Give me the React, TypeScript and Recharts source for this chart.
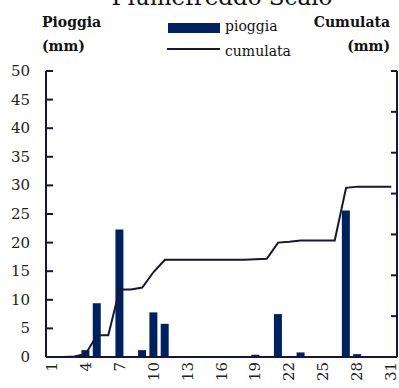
import React from 'react';
import { ComposedChart, Bar, Line, XAxis, YAxis } from 'recharts';

const days = [
  1, 2, 3, 4, 5, 6, 7, 8, 9, 10, 11, 12, 13, 14, 15, 16,
  17, 18, 19, 20, 21, 22, 23, 24, 25, 26, 27, 28, 29, 30, 31,
];
const pioggia = [
  0, 0, 0, 1.2, 9.4, 0, 22.3, 0, 1.2, 7.8, 5.8, 0, 0, 0, 0, 0,
  0, 0, 0.4, 0.1, 7.5, 0.1, 0.8, 0, 0, 0, 25.6, 0.5, 0, 0, 0,
];
const cumulata = [
  0, 0, 0.3, 1.5, 10.6, 10.6, 33.1, 33.1, 34.0, 41.6, 47.6, 47.6, 47.6, 47.6, 47.6, 47.6,
  47.6, 47.6, 47.9, 48.1, 56.0, 56.4, 57.0, 57.0, 57.0, 57.0, 82.8, 83.4, 83.4, 83.4, 83.4,
];
const leftTicks = [0, 5, 10, 15, 20, 25, 30, 35, 40, 45, 50];
const rightTicks = [0, 20, 40, 60, 80, 100, 120, 140];

const data = days.map((d, i) => ({ day: d, pioggia: pioggia[i], cumulata: cumulata[i] }));

const BAR = '#002060';
const INK = '#16163a';
const SERIF = '"DejaVu Serif", serif';

const LeftTick = (props: any) => {
  const { x, y, payload } = props;
  return (
    <g>
      <line x1={x} x2={x + 7} y1={y} y2={y} stroke={INK} strokeWidth={2} />
      <text x={x - 16} y={y} textAnchor="end" dominantBaseline="central"
        fontFamily={SERIF} fontSize={15} fill="#222">
        {payload.value}
      </text>
    </g>
  );
};

const RightTick = (props: any) => {
  const { x, y } = props;
  return <line x1={x - 6} x2={x} y1={y} y2={y} stroke={INK} strokeWidth={2} />;
};

const DayTick = (props: any) => {
  const { x, y, payload } = props;
  return (
    <text x={x} y={y + 5} transform={`rotate(-90, ${x}, ${y + 5})`} textAnchor="end"
      dominantBaseline="central" fontFamily={SERIF} fontSize={15} fill="#222">
      {payload.value}
    </text>
  );
};

export default function App() {
  return (
    <div style={{ position: 'absolute', left: 0, top: 0, width: 399, height: 388, background: '#fff' }}>
      <ComposedChart width={399} height={388} data={data}
        margin={{ top: 71, right: 0, bottom: 0, left: 0 }} barCategoryGap="13%">
        <XAxis dataKey="day" height={31} interval={2} tickSize={0} tickMargin={0}
          tickLine={false} axisLine={{ stroke: INK, strokeWidth: 2 }} tick={<DayTick />} />
        <YAxis yAxisId="left" width={46} domain={[0, 50]} ticks={leftTicks} tickSize={0}
          tickMargin={0} tickLine={false} axisLine={{ stroke: INK, strokeWidth: 2 }} tick={<LeftTick />} />
        <YAxis yAxisId="right" orientation="right" width={2} domain={[0, 140]} ticks={rightTicks}
          tickSize={0} tickMargin={0} tickLine={false} axisLine={{ stroke: INK, strokeWidth: 2 }}
          tick={<RightTick />} />
        <Bar yAxisId="left" dataKey="pioggia" fill={BAR} isAnimationActive={false} />
        <Line yAxisId="right" dataKey="cumulata" type="linear" stroke={INK} strokeWidth={2}
          dot={false} isAnimationActive={false} />
      </ComposedChart>
      <svg width={399} height={70} style={{ position: 'absolute', left: 0, top: 0, pointerEvents: 'none' }}>
        <text x={222} y={5} textAnchor="middle" fontFamily={SERIF} fontSize={23} fill="#111">
          Fiumefreddo Scalo
        </text>
        <text x={42} y={27} fontFamily={SERIF} fontSize={14} fontWeight="bold" fill="#111">Pioggia</text>
        <text x={42} y={51} fontFamily={SERIF} fontSize={14} fontWeight="bold" fill="#111">(mm)</text>
        <text x={390} y={27} textAnchor="end" fontFamily={SERIF} fontSize={14} fontWeight="bold" fill="#111">Cumulata</text>
        <text x={390} y={51} textAnchor="end" fontFamily={SERIF} fontSize={14} fontWeight="bold" fill="#111">(mm)</text>
        <rect x={168} y={23} width={52} height={10} fill={BAR} />
        <text x={225} y={31} fontFamily={SERIF} fontSize={14} fill="#111">pioggia</text>
        <line x1={167} x2={220} y1={49} y2={49} stroke={INK} strokeWidth={2} />
        <text x={225} y={56} fontFamily={SERIF} fontSize={14} fill="#111">cumulata</text>
      </svg>
    </div>
  );
}
